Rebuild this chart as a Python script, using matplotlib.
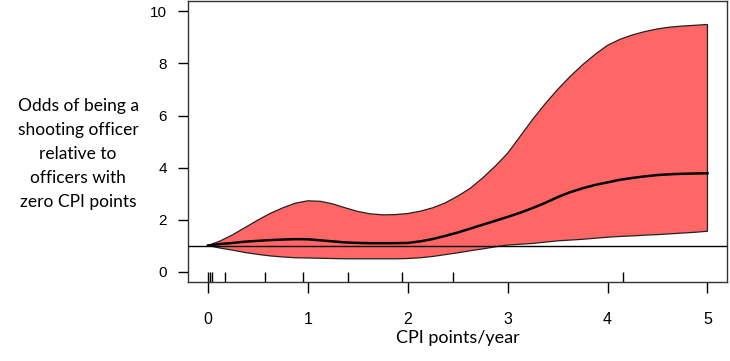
import matplotlib
matplotlib.use('Agg')
import matplotlib.pyplot as plt
import matplotlib.transforms as mtransforms

# CPI points/year grid
cpi = [0.0, 0.125, 0.25, 0.375, 0.5, 0.625, 0.75, 0.875, 1.0, 1.125,
       1.25, 1.375, 1.5, 1.625, 1.75, 1.875, 2.0, 2.125, 2.25, 2.375,
       2.5, 2.625, 2.75, 2.875, 3.0, 3.125, 3.25, 3.375, 3.5, 3.625,
       3.75, 3.875, 4.0, 4.125, 4.25, 4.375, 4.5, 4.625, 4.75, 4.875, 5.0]
upper = [1.0, 1.18, 1.42, 1.7, 1.98, 2.24, 2.45, 2.63, 2.72, 2.7,
         2.6, 2.45, 2.31, 2.22, 2.18, 2.19, 2.23, 2.32, 2.45, 2.64,
         2.9, 3.2, 3.6, 4.05, 4.55, 5.2, 5.85, 6.45, 7.0, 7.5,
         7.95, 8.35, 8.7, 8.93, 9.1, 9.23, 9.33, 9.4, 9.44, 9.47, 9.5]
odds = [1.0, 1.06, 1.1, 1.15, 1.18, 1.21, 1.23, 1.245, 1.24, 1.2,
        1.16, 1.12, 1.1, 1.09, 1.09, 1.09, 1.1, 1.16, 1.25, 1.37,
        1.5, 1.65, 1.8, 1.95, 2.1, 2.26, 2.44, 2.64, 2.86, 3.05,
        3.2, 3.33, 3.43, 3.53, 3.6, 3.66, 3.71, 3.74, 3.76, 3.77, 3.78]
lower = [1.0, 0.9, 0.82, 0.73, 0.66, 0.6, 0.56, 0.53, 0.52, 0.51,
         0.5, 0.49, 0.49, 0.49, 0.49, 0.49, 0.5, 0.53, 0.58, 0.65,
         0.72, 0.8, 0.87, 0.95, 1.02, 1.05, 1.08, 1.13, 1.18, 1.21,
         1.24, 1.28, 1.32, 1.35, 1.37, 1.4, 1.42, 1.45, 1.48, 1.51, 1.55]
rug = [0.0, 0.02, 0.04, 0.17, 0.57, 0.95, 1.4, 1.94, 2.45, 4.15]
xticks = [0, 1, 2, 3, 4, 5]
yticks = [0, 2, 4, 6, 8, 10]

fig = plt.figure(figsize=(7.3, 3.61), dpi=100)
ax = fig.add_axes([0.2575, 0.219, 0.739, 0.778])

# confidence band as one outlined polygon
ax.fill(cpi + cpi[::-1], upper + lower[::-1], facecolor='#ff6666',
        edgecolor='#222222', lw=0.9, zorder=2)
ax.plot(cpi, odds, color='black', lw=1.8, zorder=4)
ax.axhline(1, color='black', lw=1.0, zorder=5)

# rug along the bottom
trans = mtransforms.blended_transform_factory(ax.transData, ax.transAxes)
ax.vlines(rug, 0, 0.035, transform=trans, color='black', lw=1.0)

ax.set_xlim(-0.2, 5.2)
ax.set_ylim(-0.4, 10.4)
ax.set_xticks(xticks)
ax.set_yticks(yticks)
ax.tick_params(axis='x', length=8, width=1.0, pad=14, labelsize=11.5)
ax.tick_params(axis='y', length=7, width=1.0, pad=8, labelsize=11)
for lab in ax.get_xticklabels() + ax.get_yticklabels():
    lab.set_fontfamily('Liberation Sans')
for s in ax.spines.values():
    s.set_linewidth(1.0)
    s.set_color('#333333')

ax.set_xlabel('CPI points/year', fontfamily='Lato', fontsize=13, labelpad=2)
fig.text(0.107, 0.573, 'Odds of being a\nshooting officer\nrelative to\nofficers with\nzero CPI points',
         ha='center', va='center', fontfamily='Lato', fontsize=12.5, linespacing=1.62)

fig.savefig('out.png', dpi=100)
